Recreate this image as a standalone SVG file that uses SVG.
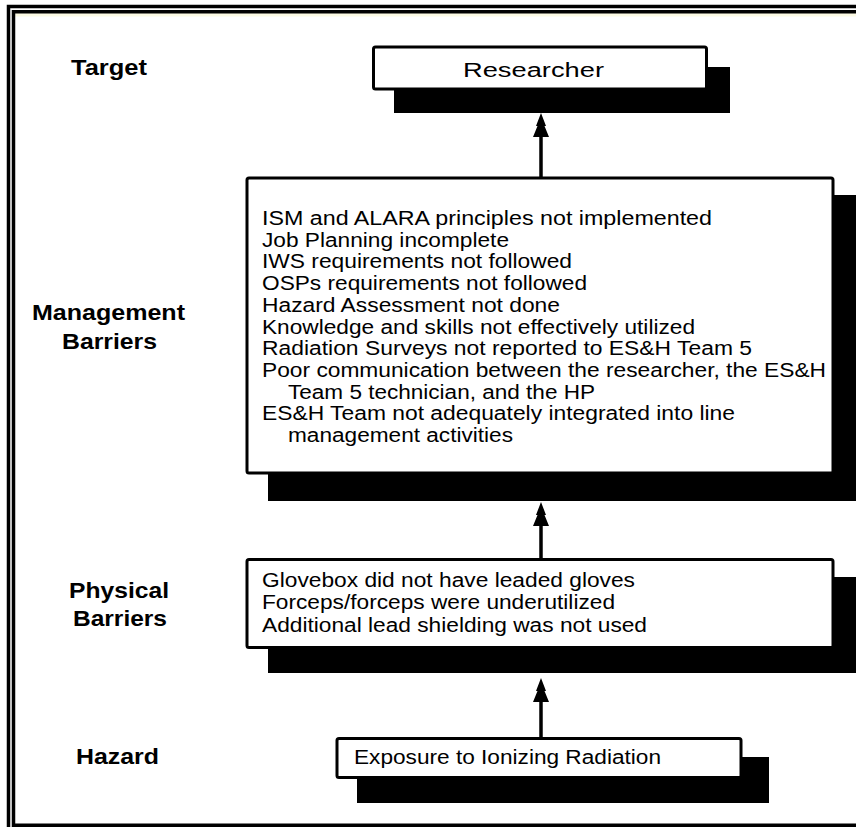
<svg xmlns="http://www.w3.org/2000/svg" width="856" height="827" viewBox="0 0 856 827">
<style>
.frame{fill:none;stroke:#000;stroke-width:3.5}
.box{fill:#fff;stroke:#000;stroke-width:3}
.shadow{fill:#000}
.conn{stroke:#000;stroke-width:3.5;fill:none}
.txt{font-family:"Liberation Sans",Arial,sans-serif;font-size:20px;fill:#000}
.lbl{font-family:"Liberation Sans",Arial,sans-serif;font-size:22px;font-weight:bold;fill:#000}
</style>
<defs>
<path id="ah" d="M0,0 L-5,13 L-3.5,13 L-8,24 L8,24 L3.5,13 L5,13 Z" fill="#000"/>
</defs>
<rect x="0" y="0" width="856" height="827" fill="#fff"/>
<g id="frame">
<rect x="15" y="13" width="841" height="3.5" fill="#FCFAE4"/>
<path class="frame" d="M8.5,827 V6.5 H856"/>
<path class="frame" d="M13.5,827 V11.8 H856"/>
<path class="frame" d="M13.5,825.2 H856"/>
</g>
<g id="labels">
<text class="lbl" x="71" y="75" textLength="76" lengthAdjust="spacingAndGlyphs">Target</text>
<text class="lbl" x="32" y="320" textLength="153" lengthAdjust="spacingAndGlyphs">Management</text>
<text class="lbl" x="62" y="349" textLength="95" lengthAdjust="spacingAndGlyphs">Barriers</text>
<text class="lbl" x="69" y="598" textLength="100" lengthAdjust="spacingAndGlyphs">Physical</text>
<text class="lbl" x="73" y="626" textLength="94" lengthAdjust="spacingAndGlyphs">Barriers</text>
<text class="lbl" x="76" y="764" textLength="83" lengthAdjust="spacingAndGlyphs">Hazard</text>
</g>
<g id="connectors">
<line class="conn" x1="541" y1="177" x2="541" y2="134"/>
<use href="#ah" x="541" y="113"/>
<line class="conn" x1="541" y1="558" x2="541" y2="522"/>
<use href="#ah" x="541" y="502"/>
<line class="conn" x1="541" y1="737" x2="541" y2="698"/>
<use href="#ah" x="541" y="678"/>
</g>
<g id="researcher">
<rect class="shadow" x="394" y="67" width="336" height="46"/>
<rect class="box" x="373.5" y="47" width="333" height="42" rx="2"/>
<text class="txt" x="463" y="77" textLength="141" lengthAdjust="spacingAndGlyphs">Researcher</text>
</g>
<g id="management">
<rect class="shadow" x="268" y="195" width="600" height="306"/>
<rect class="box" x="247" y="178" width="586" height="295" rx="2"/>
<text class="txt" x="262" y="225" textLength="450" lengthAdjust="spacingAndGlyphs">ISM and ALARA principles not  implemented</text>
<text class="txt" x="262" y="246.7" textLength="247" lengthAdjust="spacingAndGlyphs">Job Planning incomplete</text>
<text class="txt" x="262" y="268.4" textLength="310" lengthAdjust="spacingAndGlyphs">IWS requirements not followed</text>
<text class="txt" x="262" y="290.1" textLength="325" lengthAdjust="spacingAndGlyphs">OSPs requirements not followed</text>
<text class="txt" x="262" y="311.8" textLength="298" lengthAdjust="spacingAndGlyphs">Hazard Assessment not done</text>
<text class="txt" x="262" y="333.5" textLength="433" lengthAdjust="spacingAndGlyphs">Knowledge and skills not effectively utilized</text>
<text class="txt" x="262" y="355.2" textLength="490" lengthAdjust="spacingAndGlyphs">Radiation Surveys not reported to ES&amp;H Team 5</text>
<text class="txt" x="262" y="376.9" textLength="564" lengthAdjust="spacingAndGlyphs">Poor communication between the researcher, the ES&amp;H</text>
<text class="txt" x="288" y="398.6" textLength="307" lengthAdjust="spacingAndGlyphs">Team 5 technician, and the HP</text>
<text class="txt" x="262" y="420.3" textLength="473" lengthAdjust="spacingAndGlyphs">ES&amp;H Team not adequately integrated into line</text>
<text class="txt" x="288" y="442" textLength="225" lengthAdjust="spacingAndGlyphs">management activities</text>
</g>
<g id="physical">
<rect class="shadow" x="268" y="577" width="600" height="96"/>
<rect class="box" x="247" y="559.5" width="586" height="88" rx="2"/>
<text class="txt" x="262" y="587" textLength="373" lengthAdjust="spacingAndGlyphs">Glovebox did not have leaded gloves</text>
<text class="txt" x="262" y="609" textLength="353" lengthAdjust="spacingAndGlyphs">Forceps/forceps were underutilized</text>
<text class="txt" x="262" y="632" textLength="385" lengthAdjust="spacingAndGlyphs">Additional lead shielding was not used</text>
</g>
<g id="hazard">
<rect class="shadow" x="357" y="757" width="412" height="46"/>
<rect class="box" x="337" y="738.5" width="404" height="39" rx="2"/>
<text class="txt" x="354" y="764" textLength="307" lengthAdjust="spacingAndGlyphs">Exposure to Ionizing Radiation</text>
</g>
</svg>
